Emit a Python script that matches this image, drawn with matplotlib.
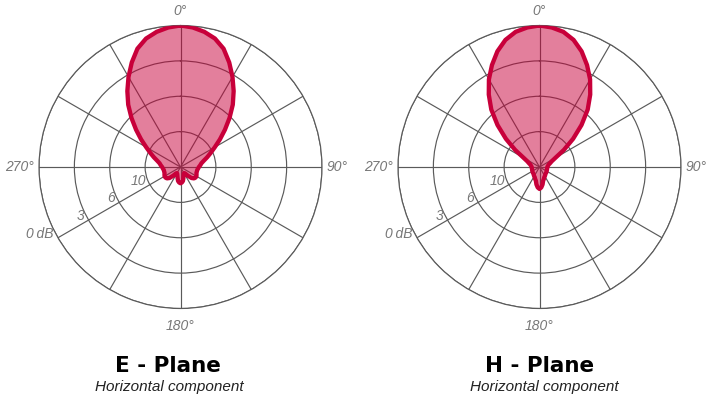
import numpy as np
import matplotlib
matplotlib.use("Agg")
import matplotlib.pyplot as plt

plt.rcParams['font.family'] = ['Liberation Sans', 'DejaVu Sans']

# half pattern, 0..180 deg (patterns are symmetric), relative radius of the plot
angles_deg = np.arange(0, 181, 5)
e_plane_r = [1.00, 0.99, 0.97, 0.94, 0.89, 0.815, 0.735, 0.655, 0.575, 0.49,
             0.41, 0.34, 0.28, 0.235, 0.20, 0.17, 0.15, 0.14, 0.13,
             0.125, 0.12, 0.12, 0.12, 0.125, 0.13, 0.13, 0.125, 0.11,
             0.08, 0.055, 0.05, 0.055, 0.065, 0.08, 0.10, 0.11, 0.115]
h_plane_r = [1.00, 0.99, 0.97, 0.93, 0.87, 0.795, 0.715, 0.625, 0.53, 0.42,
             0.31, 0.21, 0.13, 0.095, 0.08, 0.068, 0.062, 0.058, 0.055,
             0.055, 0.055, 0.055, 0.056, 0.057, 0.058, 0.06, 0.062, 0.063,
             0.065, 0.07, 0.075, 0.08, 0.09, 0.10, 0.125, 0.145, 0.155]

ring_pos = [0.25, 0.5, 0.75, 1.0]
ring_labels = ['10', '6', '3', '0\u2009dB']
angle_labels = {0: '0°', 90: '90°', 180: '180°', 270: '270°'}

titles = ['E - Plane', 'H - Plane']
subtitles = ['Horizontal component', 'Horizontal component']

LINE = '#c8003a'
GRID = '#5a5a5a'
LABEL = '#777777'


def full_pattern(r_half):
    r_half = np.asarray(r_half)
    th = np.concatenate([angles_deg, 360 - angles_deg[-2::-1]])
    r = np.concatenate([r_half, r_half[-2::-1]])
    return np.radians(th), r


def draw_polar(ax, r_half):
    ax.set_theta_zero_location('N')
    ax.set_theta_direction(-1)
    ax.set_ylim(0, 1)
    ax.set_xticks(np.radians(np.arange(0, 360, 30)))
    ax.set_xticklabels([])
    ax.set_yticks(ring_pos)
    ax.set_yticklabels([])
    ax.grid(True, color=GRID, lw=0.85)
    ax.spines['polar'].set_color(GRID)
    ax.spines['polar'].set_linewidth(0.85)
    ax.tick_params(length=0)

    th, r = full_pattern(r_half)
    ax.fill(th, r, color=LINE, alpha=0.5, lw=0, zorder=3)
    ax.plot(th, r, color=LINE, lw=3.1, solid_joinstyle='round', zorder=4)

    lab_th = np.radians(240)
    for rp, lab in zip(ring_pos, ring_labels):
        ax.annotate(lab, xy=(lab_th, rp), xytext=(-4, 4), textcoords='offset pixels',
                    ha='right', va='center', fontsize=10, style='italic',
                    color=LABEL, annotation_clip=False)

    for deg, lab in angle_labels.items():
        t = np.radians(deg)
        if deg == 0:
            ax.text(t, 1.10, lab, ha='center', va='center', fontsize=10,
                    style='italic', color=LABEL, clip_on=False)
        elif deg == 180:
            ax.text(t, 1.125, lab, ha='center', va='center', fontsize=10,
                    style='italic', color=LABEL, clip_on=False)
        elif deg == 90:
            ax.text(t, 1.03, lab, ha='left', va='center', fontsize=10,
                    style='italic', color=LABEL, clip_on=False)
        else:
            ax.text(t, 1.035, lab, ha='right', va='center', fontsize=10,
                    style='italic', color=LABEL, clip_on=False)


fig = plt.figure(figsize=(7.06, 4.01), dpi=100)
W, H = 706, 401
centers = [(180.5, 167), (539.5, 167)]
R = 141.5
title_x = [168, 540]
sub_x = [169, 544]

for i, (cx, cy) in enumerate(centers):
    ax = fig.add_axes([(cx - R) / W, (H - cy - R) / H, 2 * R / W, 2 * R / H],
                      projection='polar')
    draw_polar(ax, [e_plane_r, h_plane_r][i])
    fig.text(title_x[i] / W, 1 - 366 / H, titles[i], ha='center', va='center',
             fontsize=15.5, fontweight='bold', color='black',
             family=['DejaVu Sans'])
    fig.text(sub_x[i] / W, 1 - 387 / H, subtitles[i], ha='center', va='center',
             fontsize=11, style='italic', color='#222222')

fig.savefig('out.png', dpi=100)
